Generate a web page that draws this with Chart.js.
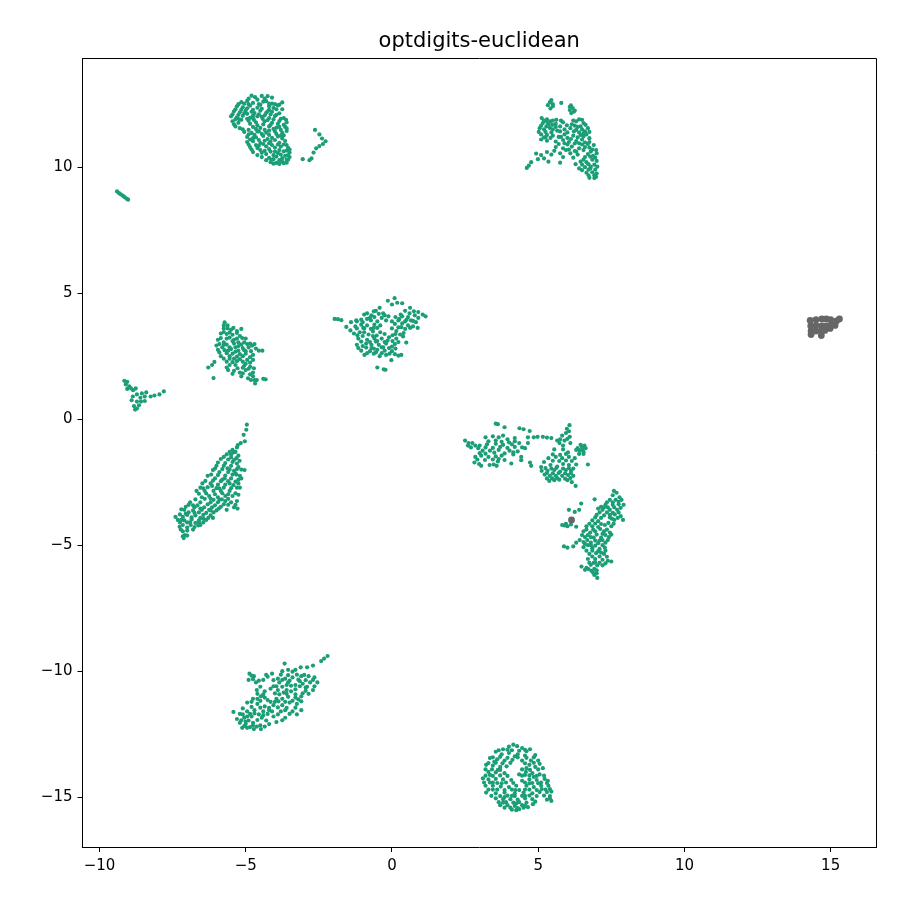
<!DOCTYPE html>
<html lang="en">
<head>
<meta charset="UTF-8">
<title>optdigits-euclidean</title>
<script src="https://cdn.jsdelivr.net/npm/chart.js"></script>
<style>
  html, body { margin: 0; padding: 0; background: #fff; }
  #wrap { width: 907px; height: 909px; }
</style>
</head>
<body>
<div id="wrap"><canvas id="chart" width="907" height="909"></canvas></div>
<script>
const chartTitle = 'optdigits-euclidean';
const xTicks = [-10, -5, 0, 5, 10, 15];
const yTicks = [-15, -10, -5, 0, 5, 10];
const xRange = [-10.58, 16.55];
const yRange = [-16.98, 14.33];

// values, one list per blob
const topLeft = [[-4.8,12.84],[-4.68,12.78],[-4.45,12.83],[-4.25,12.82],[-4.1,12.76],[-5.15,12.58],[-4.95,12.63],[-4.75,12.55],[-4.4,12.6],[-4.2,12.52],[-3.75,12.57],[-5.3,12.42],[-5.1,12.38],[-4.85,12.44],[-4.6,12.36],[-4.2,12.42],[-4.05,12.35],[-3.9,12.45],[-5.4,12.22],[-5.2,12.18],[-5.0,12.25],[-4.7,12.15],[-4.5,12.24],[-4.3,12.16],[-4.1,12.2],[-3.85,12.14],[-5.5,12.02],[-5.3,11.98],[-5.1,12.04],[-4.85,11.96],[-4.6,12.02],[-4.2,11.95],[-4.0,12.03],[-5.45,11.82],[-5.25,11.76],[-4.9,11.84],[-4.65,11.78],[-4.35,11.82],[-4.1,11.76],[-3.85,11.83],[-3.6,11.78],[-5.35,11.62],[-5.2,11.55],[-4.75,11.6],[-4.5,11.56],[-4.2,11.62],[-3.95,11.57],[-3.65,11.6],[-5.05,11.4],[-4.8,11.36],[-4.55,11.42],[-4.3,11.37],[-4.0,11.42],[-3.75,11.36],[-3.6,11.44],[-4.95,11.2],[-4.65,11.18],[-4.4,11.24],[-4.1,11.16],[-3.9,11.22],[-4.95,11.0],[-4.75,11.03],[-4.5,10.96],[-4.15,11.02],[-3.85,10.97],[-3.65,11.04],[-4.85,10.8],[-4.6,10.76],[-4.3,10.83],[-4.0,10.78],[-3.8,10.82],[-3.55,10.77],[-4.75,10.6],[-4.45,10.57],[-4.15,10.62],[-3.9,10.56],[-3.7,10.63],[-3.5,10.58],[-4.45,10.4],[-4.2,10.37],[-3.95,10.42],[-3.75,10.36],[-3.5,10.4],[-4.15,10.2],[-3.95,10.17],[-3.75,10.22],[-3.6,10.18]];
const topLeftMore = [[-4.9,12.72],[-4.6,12.68],[-4.35,12.72],[-5.25,12.5],[-5.05,12.52],[-4.9,12.5],[-4.5,12.47],[-4.1,12.52],[-3.85,12.48],[-5.35,12.3],[-5.15,12.28],[-4.95,12.34],[-4.75,12.28],[-4.45,12.32],[-4.2,12.28],[-3.95,12.3],[-5.45,12.1],[-5.25,12.08],[-4.95,12.12],[-4.75,12.05],[-4.55,12.1],[-4.35,12.06],[-4.15,12.1],[-3.95,12.08],[-5.35,11.9],[-5.15,11.88],[-4.95,11.92],[-4.72,11.88],[-4.42,11.92],[-4.25,11.87],[-4.05,11.9],[-3.8,11.92],[-3.62,11.88],[-5.4,11.7],[-4.85,11.72],[-4.6,11.66],[-4.4,11.7],[-4.15,11.68],[-3.9,11.72],[-3.7,11.68],[-5.1,11.5],[-4.9,11.48],[-4.65,11.52],[-4.35,11.48],[-4.05,11.52],[-3.8,11.48],[-3.6,11.54],[-4.9,11.3],[-4.7,11.28],[-4.45,11.32],[-4.2,11.28],[-3.95,11.32],[-3.7,11.26],[-4.85,11.1],[-4.55,11.08],[-4.25,11.12],[-4.0,11.08],[-3.75,11.14],[-4.9,10.9],[-4.65,10.88],[-4.4,10.92],[-4.1,10.88],[-3.9,10.9],[-3.6,10.88],[-4.8,10.7],[-4.5,10.68],[-4.2,10.72],[-3.85,10.68],[-3.6,10.66],[-4.6,10.48],[-4.3,10.52],[-4.05,10.48],[-3.8,10.5],[-3.55,10.48],[-4.3,10.28],[-4.05,10.32],[-3.85,10.28],[-3.6,10.3],[-4.05,10.14],[-3.85,10.13],[-3.7,10.16]];
const topLeftFill = [[-5.05,12.15],[-4.8,12.2],[-4.55,12.5],[-4.3,12.62],[-4.0,12.5],[-5.22,11.9],[-4.75,11.95],[-4.45,12.0],[-4.25,12.22],[-3.75,12.3],[-3.7,11.95],[-4.6,11.42],[-4.2,11.45],[-3.85,11.6],[-4.75,11.15],[-4.35,11.05],[-3.8,11.25],[-4.55,10.85],[-4.2,10.95],[-3.7,10.9],[-4.35,10.65],[-4.0,10.62],[-3.65,10.45],[-4.1,10.3],[-3.5,10.7],[-3.55,10.3]];
const topLeftTail = [[-3.05,10.32],[-2.82,10.28],[-2.75,10.35],[-2.68,10.58],[-2.59,10.75],[-2.48,10.84],[-2.36,10.92],[-2.27,11.03],[-2.39,11.14],[-2.48,11.3],[-2.63,11.48]];
const topMid = [[5.45,12.66],[5.33,12.46],[5.5,12.5],[5.42,12.33],[5.79,12.55],[6.08,12.4],[6.18,12.35],[6.13,12.15],[6.22,12.2],[5.12,11.95],[5.3,11.9],[5.5,11.85],[5.16,11.75],[5.35,11.7],[5.6,11.72],[5.85,11.78],[6.2,11.85],[6.4,11.9],[6.55,11.75],[5.05,11.55],[5.2,11.5],[5.4,11.56],[5.65,11.45],[5.9,11.5],[6.1,11.55],[6.3,11.48],[6.5,11.5],[6.7,11.55],[5.1,11.3],[5.3,11.28],[5.5,11.25],[5.9,11.3],[6.2,11.25],[6.45,11.28],[6.65,11.3],[5.1,11.1],[5.3,11.05],[5.6,11.02],[5.85,11.08],[6.05,11.0],[6.3,11.04],[6.5,11.1],[6.75,11.0],[5.6,10.8],[5.85,10.75],[6.15,10.82],[6.4,10.75],[6.6,10.8],[6.85,10.7],[4.93,10.54],[5.1,10.48],[5.3,10.6],[5.45,10.5],[5.75,10.55],[6.1,10.55],[6.35,10.5],[6.7,10.52],[7.0,10.55],[4.76,10.2],[4.99,10.32],[5.2,10.35],[5.35,10.22],[4.61,9.97],[4.68,10.06],[5.75,10.18],[6.28,10.12],[6.45,10.22],[6.65,10.2],[6.85,10.3],[7.0,10.25],[6.4,9.95],[6.6,10.0],[6.8,10.02],[7.02,10.02],[6.65,9.78],[6.85,9.8],[7.0,9.75],[6.75,9.58],[6.92,9.57]];
const topMidMore = [[5.4,12.58],[5.5,12.42],[6.12,12.45],[6.25,12.25],[6.08,12.27],[5.2,11.85],[5.42,11.82],[5.62,11.88],[5.78,11.85],[6.3,11.82],[6.5,11.88],[5.1,11.65],[5.28,11.62],[5.48,11.68],[5.75,11.62],[5.98,11.66],[6.25,11.65],[6.45,11.62],[6.62,11.68],[5.02,11.4],[5.25,11.4],[5.45,11.38],[5.75,11.42],[6.0,11.38],[6.22,11.42],[6.4,11.38],[6.6,11.42],[6.75,11.4],[5.2,11.18],[5.42,11.16],[5.7,11.2],[6.0,11.16],[6.35,11.18],[6.55,11.22],[6.75,11.15],[5.7,10.92],[6.0,10.9],[6.25,10.94],[6.5,10.9],[6.7,10.92],[6.9,10.88],[5.55,10.65],[5.95,10.68],[6.25,10.64],[6.55,10.68],[6.8,10.62],[6.98,10.68],[5.85,10.4],[6.2,10.38],[6.6,10.4],[6.78,10.42],[6.95,10.38],[6.5,10.1],[6.72,10.12],[6.92,10.1],[6.5,9.88],[6.72,9.9],[6.95,9.9],[6.72,9.68],[6.92,9.68],[6.98,9.62]];
const topMidFill = [[5.3,11.8],[5.6,11.6],[5.5,11.5],[5.25,11.18],[6.15,11.7],[6.35,11.6],[6.55,11.35],[5.78,11.2],[6.12,11.12],[6.4,10.95],[6.6,10.98],[5.9,10.95],[6.3,10.62],[6.05,10.7],[6.75,10.78],[6.88,10.45],[6.55,10.3],[6.78,9.95]];
const centre = [[-1.96,3.98],[-1.85,3.97],[-1.73,3.93],[-1.56,3.66],[-1.4,3.85],[-1.22,3.92],[-1.05,3.95],[-0.85,4.2],[-0.7,4.12],[-0.55,4.3],[-0.42,4.42],[-0.3,4.2],[-0.14,4.7],[0.0,4.55],[0.09,4.8],[0.18,4.62],[0.35,4.6],[0.45,4.3],[0.62,4.42],[0.75,4.28],[0.9,4.25],[1.05,4.15],[1.15,4.08],[0.9,4.02],[0.88,3.62],[0.72,3.9],[0.55,4.05],[0.35,4.08],[0.12,4.05],[-0.12,4.08],[-0.35,4.02],[-0.6,4.05],[-0.85,3.98],[-1.05,3.75],[-1.25,3.68],[-1.42,3.52],[-1.3,3.4],[-1.1,3.45],[-0.85,3.72],[-0.6,3.75],[-0.4,3.72],[0.1,3.78],[0.35,3.8],[0.55,3.72],[0.72,3.68],[-0.95,3.45],[-0.65,3.48],[-0.4,3.45],[0.15,3.5],[0.4,3.42],[-1.15,3.2],[-0.85,3.15],[-0.6,3.2],[-0.35,3.2],[-0.1,3.25],[0.15,3.2],[0.38,3.28],[-1.2,2.95],[-1.0,2.9],[-0.7,2.95],[-0.45,2.95],[-0.2,3.0],[0.1,2.98],[0.49,3.04],[-1.05,2.72],[-0.75,2.7],[-0.5,2.75],[-0.25,2.72],[0.0,2.7],[-0.94,2.55],[-0.62,2.6],[-0.42,2.5],[-0.2,2.55],[0.1,2.58],[0.22,2.52],[0.32,2.55],[-0.02,2.34],[-0.5,2.05],[-0.28,1.98],[-0.22,1.96]];
const centreMore = [[-0.62,4.28],[-0.95,4.15],[-0.45,4.18],[0.3,4.15],[0.6,4.2],[0.78,4.12],[-1.2,3.88],[-1.0,3.85],[-0.72,3.92],[-0.5,3.88],[-0.2,3.92],[0.0,3.88],[0.22,3.92],[0.45,3.88],[0.65,3.92],[0.82,3.85],[-1.2,3.6],[-0.98,3.62],[-0.72,3.58],[-0.5,3.62],[0.0,3.6],[0.22,3.64],[0.45,3.58],[0.62,3.62],[-1.18,3.33],[-0.8,3.36],[-0.52,3.32],[-0.25,3.38],[0.02,3.33],[0.28,3.36],[-1.05,3.08],[-0.75,3.06],[-0.5,3.1],[-0.25,3.06],[0.02,3.1],[0.22,3.06],[-1.15,2.82],[-0.88,2.84],[-0.62,2.8],[-0.35,2.85],[-0.1,2.82],[0.12,2.8],[-0.85,2.62],[-0.35,2.62],[-0.08,2.6]];
const centreFill = [[-0.75,4.02],[-0.25,4.12],[0.25,3.98],[0.5,3.95],[-0.95,3.6],[-0.62,3.62],[0.32,3.65],[-1.0,3.3],[-0.65,3.3],[-0.15,3.12],[0.12,3.38],[-0.88,3.0],[-0.55,3.08],[-0.3,2.85],[-0.7,2.82],[0.0,2.88],[-0.55,2.65]];
const leftMid = [[-5.72,3.84],[-5.62,3.72],[-5.75,3.6],[-5.5,3.55],[-5.3,3.5],[-5.15,3.58],[-5.85,3.4],[-5.65,3.38],[-5.45,3.35],[-5.2,3.3],[-5.0,3.2],[-5.95,3.15],[-5.75,3.05],[-5.45,3.1],[-5.25,3.05],[-5.05,3.05],[-4.85,3.0],[-4.7,2.98],[-6.0,2.92],[-5.8,2.85],[-5.55,2.85],[-5.35,2.85],[-5.1,2.82],[-4.9,2.85],[-4.65,2.8],[-4.43,2.72],[-5.9,2.65],[-5.65,2.62],[-5.45,2.6],[-5.2,2.58],[-5.0,2.6],[-4.75,2.55],[-5.75,2.4],[-5.4,2.4],[-5.2,2.38],[-4.95,2.35],[-4.75,2.35],[-6.07,2.27],[-6.15,2.15],[-6.28,2.05],[-5.55,2.15],[-5.35,2.15],[-5.05,2.12],[-4.85,2.08],[-5.6,1.95],[-5.4,1.92],[-5.2,1.85],[-5.0,1.95],[-4.75,1.85],[-6.1,1.63],[-5.15,1.7],[-4.92,1.62],[-4.75,1.7],[-4.68,1.42],[-4.62,1.55],[-4.4,1.6],[-4.32,1.58]];
const leftMidMore = [[-5.75,3.72],[-5.62,3.6],[-5.42,3.62],[-5.75,3.46],[-5.55,3.44],[-5.3,3.42],[-5.85,3.22],[-5.55,3.24],[-5.3,3.2],[-5.12,3.22],[-5.9,2.98],[-5.65,2.96],[-5.4,3.0],[-5.15,2.96],[-4.95,2.98],[-4.78,2.92],[-5.95,2.75],[-5.72,2.74],[-5.5,2.78],[-5.25,2.72],[-5.05,2.74],[-4.82,2.7],[-4.55,2.72],[-5.85,2.5],[-5.55,2.5],[-5.3,2.48],[-5.1,2.5],[-4.85,2.46],[-5.65,2.28],[-5.45,2.26],[-5.1,2.28],[-4.85,2.24],[-5.65,2.05],[-5.28,2.02],[-5.1,2.04],[-4.9,2.0],[-4.72,2.02],[-5.45,1.8],[-5.1,1.82],[-4.85,1.78],[-4.82,1.55],[-4.7,1.55]];
const leftMidFill = [[-5.65,3.2],[-5.4,3.15],[-5.75,2.95],[-5.25,2.9],[-5.6,2.72],[-5.35,2.68],[-5.0,2.7],[-5.55,2.4],[-5.3,2.3],[-5.0,2.2]];
const farLeftLine = [[-9.4,9.04],[-9.33,8.97],[-9.27,8.92],[-9.2,8.87],[-9.14,8.81],[-9.07,8.75],[-9.02,8.71]];
const farLeftBlob = [[-9.15,1.52],[-9.05,1.48],[-9.1,1.38],[-8.98,1.3],[-9.05,1.2],[-8.92,1.22],[-8.76,1.22],[-8.85,1.15],[-8.86,0.9],[-8.9,0.75],[-8.72,0.98],[-8.55,1.02],[-8.4,1.06],[-8.6,0.85],[-8.45,0.9],[-8.25,0.9],[-8.12,0.94],[-7.95,0.98],[-7.8,1.1],[-8.72,0.7],[-8.58,0.7],[-8.45,0.72],[-8.82,0.52],[-8.72,0.42],[-8.65,0.55],[-8.78,0.38]];
const lowerLeft = [[-4.96,-0.22],[-4.98,-0.42],[-5.07,-0.62],[-5.03,-0.88],[-5.17,-0.95],[-5.27,-1.03],[-5.45,-1.22],[-5.35,-1.3],[-5.5,-1.4],[-5.25,-1.45],[-5.65,-1.4],[-5.85,-1.58],[-5.6,-1.6],[-5.4,-1.62],[-5.21,-1.65],[-6.0,-1.85],[-5.75,-1.85],[-5.5,-1.85],[-5.25,-1.9],[-5.04,-2.02],[-6.12,-2.02],[-5.9,-2.1],[-5.6,-2.1],[-5.35,-2.15],[-6.3,-2.25],[-6.05,-2.35],[-5.72,-2.35],[-5.5,-2.35],[-5.25,-2.4],[-6.48,-2.55],[-6.2,-2.55],[-5.95,-2.6],[-5.7,-2.6],[-5.42,-2.62],[-5.2,-2.72],[-6.68,-2.85],[-6.4,-2.85],[-6.1,-2.85],[-5.85,-2.85],[-5.55,-2.85],[-6.25,-3.05],[-5.95,-3.1],[-5.7,-3.05],[-5.45,-3.05],[-5.25,-3.0],[-6.9,-3.3],[-6.55,-3.3],[-6.2,-3.3],[-5.95,-3.3],[-5.7,-3.25],[-5.5,-3.3],[-5.3,-3.25],[-7.05,-3.48],[-6.75,-3.5],[-6.42,-3.5],[-6.15,-3.5],[-5.85,-3.48],[-5.65,-3.6],[-5.28,-3.55],[-5.4,-3.5],[-7.2,-3.58],[-6.95,-3.7],[-6.6,-3.7],[-6.35,-3.72],[-6.1,-3.7],[-7.4,-3.88],[-7.15,-3.88],[-6.85,-3.9],[-6.55,-3.92],[-6.28,-3.92],[-6.12,-3.92],[-7.25,-4.1],[-7.0,-4.1],[-6.72,-4.12],[-6.45,-4.1],[-7.26,-4.27],[-7.0,-4.3],[-6.75,-4.28],[-6.55,-4.2],[-7.15,-4.45],[-7.08,-4.6],[-7.0,-4.62],[-7.12,-4.72]];
const lowerLeftMore = [[-5.3,-1.12],[-5.55,-1.3],[-5.42,-1.32],[-5.75,-1.5],[-5.5,-1.52],[-5.32,-1.55],[-5.95,-1.72],[-5.7,-1.74],[-5.45,-1.7],[-5.3,-1.76],[-6.05,-1.96],[-5.8,-1.98],[-5.55,-2.0],[-5.3,-1.98],[-5.15,-2.0],[-6.18,-2.2],[-5.95,-2.22],[-5.7,-2.24],[-5.45,-2.2],[-5.2,-2.25],[-6.38,-2.45],[-6.12,-2.44],[-5.85,-2.46],[-5.6,-2.46],[-5.35,-2.48],[-6.55,-2.72],[-6.3,-2.7],[-6.0,-2.74],[-5.75,-2.72],[-5.5,-2.74],[-5.3,-2.72],[-6.6,-2.96],[-6.35,-2.95],[-6.05,-2.98],[-5.8,-2.94],[-5.6,-2.98],[-5.35,-2.94],[-6.72,-3.18],[-6.4,-3.16],[-6.1,-3.2],[-5.82,-3.18],[-5.6,-3.16],[-6.95,-3.4],[-6.65,-3.42],[-6.3,-3.38],[-6.05,-3.42],[-5.75,-3.38],[-7.1,-3.6],[-6.8,-3.62],[-6.5,-3.6],[-6.25,-3.6],[-6.0,-3.62],[-7.25,-3.78],[-7.0,-3.8],[-6.72,-3.82],[-6.45,-3.8],[-6.2,-3.82],[-7.32,-4.0],[-7.1,-4.02],[-6.85,-3.98],[-6.6,-4.02],[-6.35,-4.0],[-7.15,-4.2],[-6.88,-4.2],[-6.62,-4.22],[-7.22,-4.38],[-7.0,-4.42],[-6.8,-4.38],[-7.15,-4.65]];
const lowerLeftFill = [[-5.62,-1.95],[-5.4,-2.05],[-5.8,-2.4],[-5.55,-2.55],[-6.15,-2.65],[-5.9,-2.75],[-6.45,-2.75],[-6.2,-3.15],[-5.9,-3.2],[-6.5,-3.1],[-6.8,-3.42],[-6.55,-3.55],[-6.2,-3.62],[-5.92,-3.55],[-7.05,-3.75],[-6.75,-3.72],[-6.45,-3.95],[-7.2,-4.0],[-6.9,-4.1],[-6.6,-4.1],[-5.32,-2.2],[-5.25,-2.55],[-5.6,-3.4],[-5.35,-3.4],[-5.15,-2.35]];
const midRightA = [[2.5,-0.85],[2.62,-0.95],[2.75,-0.95],[2.6,-1.05],[2.85,-1.05],[3.55,-0.18],[3.62,-0.2],[3.85,-0.32],[3.2,-0.72],[3.45,-0.68],[3.65,-0.72],[3.8,-0.65],[3.95,-0.8],[4.2,-0.75],[4.36,-0.36],[4.5,-0.4],[4.71,-0.47],[4.65,-0.72],[4.85,-0.72],[4.98,-0.7],[3.0,-1.05],[3.25,-1.0],[3.55,-0.98],[3.8,-1.02],[4.1,-1.0],[4.35,-0.95],[4.65,-0.95],[3.1,-1.25],[3.35,-1.25],[3.65,-1.22],[4.02,-1.25],[4.3,-1.28],[4.55,-1.15],[2.85,-1.5],[3.05,-1.45],[3.3,-1.5],[3.55,-1.48],[3.75,-1.45],[4.15,-1.4],[4.42,-1.5],[2.82,-1.72],[2.98,-1.78],[3.34,-1.82],[3.48,-1.8],[3.62,-1.68],[3.85,-1.62],[4.08,-1.76],[4.42,-1.63],[4.72,-1.72],[4.76,-1.85]];
const midRightAMore = [[3.3,-0.88],[3.55,-0.85],[3.75,-0.9],[4.0,-0.92],[4.2,-0.88],[2.7,-1.12],[2.95,-1.15],[3.2,-1.12],[3.45,-1.14],[3.7,-1.1],[3.95,-1.14],[4.2,-1.1],[4.45,-1.12],[3.0,-1.35],[3.2,-1.37],[3.5,-1.33],[3.85,-1.36],[4.15,-1.32],[2.92,-1.6],[3.18,-1.62],[3.45,-1.6],[3.65,-1.58],[3.05,-1.85],[3.58,-1.85]];
const midRightB = [[6.07,-0.24],[5.98,-0.38],[5.95,-0.55],[5.82,-0.65],[5.16,-0.7],[5.3,-0.73],[5.45,-0.75],[5.65,-0.85],[6.08,-0.7],[5.9,-0.85],[5.73,-0.95],[6.1,-0.95],[6.35,-1.15],[6.5,-1.1],[6.62,-1.15],[6.55,-1.3],[6.42,-1.25],[5.55,-1.2],[5.85,-1.2],[6.02,-1.32],[6.4,-1.38],[5.35,-1.55],[5.6,-1.5],[5.82,-1.55],[6.05,-1.5],[6.25,-1.55],[6.7,-1.8],[5.2,-1.7],[5.42,-1.82],[5.65,-1.88],[5.85,-1.78],[6.05,-1.82],[6.3,-1.8],[5.1,-1.9],[5.12,-2.05],[5.32,-2.05],[5.55,-2.02],[5.75,-2.08],[5.95,-2.02],[6.12,-2.05],[5.22,-2.2],[5.4,-2.25],[5.6,-2.25],[5.82,-2.25],[6.02,-2.22],[6.2,-2.25],[5.38,-2.45],[5.55,-2.42],[5.72,-2.4],[6.0,-2.42],[6.15,-2.5],[6.28,-2.65]];
const midRightBMore = [[6.05,-0.48],[5.75,-0.8],[6.0,-0.78],[5.85,-1.05],[6.45,-1.02],[6.58,-1.05],[6.5,-1.2],[6.3,-1.22],[5.5,-1.4],[5.75,-1.42],[5.95,-1.38],[6.55,-1.38],[5.5,-1.65],[5.72,-1.66],[5.95,-1.64],[6.15,-1.66],[5.25,-1.94],[5.45,-1.96],[5.62,-1.94],[5.85,-1.96],[6.05,-1.94],[6.2,-1.96],[5.3,-2.14],[5.5,-2.15],[5.7,-2.14],[5.92,-2.15],[6.12,-2.14],[5.3,-2.35],[5.48,-2.35],[5.65,-2.34],[5.92,-2.36],[6.1,-2.34]];
const lowerRight = [[7.59,-2.85],[7.68,-2.92],[7.55,-3.02],[7.78,-3.1],[7.65,-3.2],[7.45,-3.2],[7.85,-3.2],[7.92,-3.4],[7.75,-3.38],[7.55,-3.4],[7.3,-3.4],[7.05,-3.55],[6.93,-3.18],[6.47,-3.35],[6.4,-3.6],[6.05,-3.6],[6.25,-3.68],[7.2,-3.6],[7.45,-3.6],[7.7,-3.6],[7.0,-3.8],[7.25,-3.82],[7.62,-3.78],[7.82,-3.85],[7.9,-4.0],[6.85,-4.02],[7.05,-4.05],[7.6,-4.0],[5.82,-4.2],[5.95,-4.15],[6.3,-4.27],[6.65,-4.25],[6.85,-4.25],[7.05,-4.28],[7.28,-4.2],[7.5,-4.25],[6.55,-4.45],[6.78,-4.5],[7.25,-4.45],[7.45,-4.5],[6.6,-4.68],[6.9,-4.7],[7.15,-4.7],[7.42,-4.68],[6.3,-4.9],[6.55,-4.88],[6.8,-4.9],[7.05,-4.92],[7.3,-4.9],[5.88,-5.05],[6.0,-5.1],[6.2,-5.05],[6.55,-5.08],[6.85,-5.12],[7.1,-5.15],[7.28,-5.1],[6.75,-5.35],[6.98,-5.32],[7.25,-5.35],[6.7,-5.55],[6.95,-5.55],[7.2,-5.58],[7.38,-5.62],[7.5,-5.65],[6.48,-5.85],[6.65,-5.9],[6.8,-5.78],[7.02,-5.8],[6.6,-5.98],[6.82,-6.02],[7.0,-6.0],[6.92,-6.18],[7.02,-6.3]];
const lowerRightMore = [[7.55,-3.3],[7.75,-3.28],[7.35,-3.3],[7.6,-3.5],[7.82,-3.52],[7.38,-3.5],[7.15,-3.48],[7.1,-3.7],[7.35,-3.7],[7.55,-3.72],[7.75,-3.7],[6.95,-3.9],[7.15,-3.92],[7.45,-3.9],[7.72,-3.92],[6.75,-4.15],[6.95,-4.14],[7.15,-4.16],[7.4,-4.12],[7.58,-4.15],[6.65,-4.38],[6.88,-4.38],[7.12,-4.36],[7.35,-4.38],[6.5,-4.6],[6.7,-4.6],[7.0,-4.58],[7.3,-4.6],[7.5,-4.58],[6.42,-4.8],[6.68,-4.8],[6.95,-4.82],[7.2,-4.8],[7.38,-4.8],[6.7,-5.0],[6.95,-5.02],[7.2,-5.0],[6.65,-5.22],[6.85,-5.22],[7.05,-5.24],[7.3,-5.22],[6.85,-5.45],[7.1,-5.45],[7.35,-5.46],[6.75,-5.7],[6.9,-5.7],[7.1,-5.7],[7.3,-5.72],[6.72,-5.95],[6.92,-5.94],[6.88,-6.1],[7.0,-6.12],[5.9,-4.22],[6.0,-4.25],[6.12,-4.18]];
const lowerRightFill = [[7.25,-3.5],[7.45,-3.8],[6.95,-4.45],[7.2,-4.55],[6.8,-4.68],[7.1,-4.82],[6.6,-4.95],[6.8,-5.0],[7.15,-5.3],[6.95,-5.68],[7.2,-5.8],[7.52,-3.95]];
const bottomLeft = [[-2.2,-9.4],[-2.32,-9.5],[-2.42,-9.6],[-2.7,-9.78],[-2.9,-9.85],[-3.12,-9.85],[-3.3,-9.95],[-3.67,-9.7],[-3.55,-9.95],[-3.75,-10.0],[-4.1,-10.1],[-4.3,-10.15],[-4.87,-10.1],[-4.72,-10.2],[-4.9,-10.35],[-4.65,-10.45],[-4.4,-10.35],[-3.9,-10.3],[-3.65,-10.3],[-3.4,-10.25],[-3.1,-10.2],[-2.85,-10.2],[-2.65,-10.25],[-2.55,-10.45],[-2.8,-10.45],[-3.05,-10.5],[-3.3,-10.55],[-3.6,-10.55],[-3.95,-10.6],[-4.15,-10.7],[-4.62,-10.75],[-4.35,-10.8],[-2.7,-10.75],[-2.95,-10.78],[-3.45,-10.8],[-3.7,-10.85],[-4.0,-10.88],[-4.48,-11.0],[-4.75,-11.1],[-3.1,-11.0],[-3.3,-11.05],[-3.75,-11.1],[-3.95,-11.1],[-4.25,-11.15],[-4.95,-11.25],[-4.6,-11.3],[-4.35,-11.4],[-4.05,-11.35],[-3.75,-11.35],[-3.5,-11.25],[-3.25,-11.3],[-5.42,-11.62],[-5.2,-11.7],[-4.95,-11.6],[-4.7,-11.55],[-4.4,-11.6],[-4.1,-11.6],[-3.8,-11.6],[-3.4,-11.6],[-3.1,-11.55],[-3.25,-11.72],[-5.3,-11.9],[-5.05,-11.85],[-4.8,-11.8],[-4.45,-11.85],[-4.05,-11.8],[-3.65,-11.85],[-5.2,-12.05],[-5.0,-12.1],[-4.75,-12.05],[-4.5,-12.15],[-3.95,-12.02],[-4.2,-12.1],[-5.12,-12.25],[-4.95,-12.25],[-4.72,-12.3],[-4.48,-12.3]];
const bottomLeftMore = [[-3.4,-10.02],[-3.0,-10.15],[-3.25,-10.14],[-3.55,-10.16],[-3.8,-10.14],[-4.25,-10.22],[-4.8,-10.18],[-2.7,-10.35],[-2.95,-10.36],[-3.2,-10.34],[-3.5,-10.38],[-3.75,-10.35],[-4.05,-10.36],[-4.55,-10.38],[-4.75,-10.32],[-2.65,-10.6],[-2.9,-10.62],[-3.15,-10.6],[-3.45,-10.58],[-3.75,-10.62],[-4.05,-10.6],[-4.5,-10.62],[-2.85,-10.9],[-3.05,-10.88],[-3.3,-10.92],[-3.6,-10.9],[-3.85,-10.92],[-4.6,-10.9],[-4.4,-10.92],[-3.1,-11.2],[-3.4,-11.18],[-3.65,-11.22],[-3.88,-11.2],[-4.15,-11.22],[-4.5,-11.18],[-4.8,-11.22],[-3.3,-11.45],[-3.6,-11.46],[-3.9,-11.44],[-4.2,-11.46],[-4.5,-11.45],[-4.8,-11.42],[-5.1,-11.48],[-3.5,-11.7],[-3.9,-11.72],[-4.25,-11.7],[-4.55,-11.72],[-4.85,-11.7],[-5.1,-11.72],[-3.75,-11.95],[-4.3,-11.96],[-4.6,-11.94],[-4.9,-11.96],[-5.15,-11.95],[-4.35,-12.2],[-4.62,-12.2],[-4.85,-12.22],[-5.05,-12.18]];
const bottomLeftFill = [[-3.15,-10.4],[-3.55,-10.45],[-3.85,-10.45],[-2.95,-10.65],[-3.3,-10.72],[-3.6,-10.75],[-3.9,-10.75],[-3.2,-11.12],[-3.55,-11.02],[-4.0,-11.22],[-4.35,-11.05],[-4.6,-11.1],[-4.2,-11.55],[-3.65,-11.55],[-4.7,-11.68],[-4.4,-11.75],[-4.95,-11.8],[-5.0,-12.0],[-4.75,-12.15]];
const bottomCircle = [[4.15,-12.92],[4.28,-12.98],[4.0,-13.0],[4.45,-13.05],[4.72,-13.1],[3.8,-13.1],[3.55,-13.2],[3.75,-13.3],[4.0,-13.25],[4.3,-13.3],[4.55,-13.35],[4.9,-13.33],[5.0,-13.55],[3.35,-13.45],[3.6,-13.5],[3.85,-13.55],[4.12,-13.52],[4.45,-13.55],[4.75,-13.55],[3.22,-13.72],[3.45,-13.75],[3.7,-13.8],[3.92,-13.78],[4.6,-13.85],[4.9,-13.8],[5.16,-13.85],[3.3,-14.0],[3.55,-14.02],[3.85,-14.05],[4.35,-14.1],[4.55,-14.12],[4.8,-14.05],[5.05,-14.1],[3.11,-14.26],[3.3,-14.3],[3.55,-14.28],[3.8,-14.3],[4.08,-14.32],[4.45,-14.35],[4.7,-14.3],[4.95,-14.32],[5.22,-14.28],[5.33,-14.35],[3.2,-14.55],[3.45,-14.55],[3.72,-14.58],[4.0,-14.6],[4.25,-14.55],[4.6,-14.55],[4.85,-14.6],[5.1,-14.55],[5.35,-14.55],[3.22,-14.82],[3.55,-14.85],[3.85,-14.82],[4.2,-14.85],[4.5,-14.82],[4.8,-14.85],[5.05,-14.8],[5.3,-14.8],[5.45,-14.78],[3.55,-15.05],[3.8,-15.08],[4.05,-15.08],[4.3,-15.1],[4.55,-15.05],[4.8,-15.08],[5.3,-15.1],[5.45,-15.15],[3.7,-15.32],[3.95,-15.32],[4.2,-15.35],[4.45,-15.32],[4.82,-15.28],[4.1,-15.5],[4.25,-15.52],[4.35,-15.48]];
const bottomCircleMore = [[4.1,-13.14],[4.35,-13.16],[4.6,-13.18],[3.65,-13.14],[3.45,-13.42],[3.7,-13.4],[3.95,-13.44],[4.3,-13.42],[4.6,-13.44],[4.85,-13.42],[3.3,-13.65],[3.55,-13.64],[3.78,-13.66],[4.05,-13.64],[4.55,-13.66],[4.85,-13.64],[5.05,-13.68],[3.2,-13.9],[3.42,-13.9],[3.7,-13.92],[4.45,-13.9],[4.72,-13.92],[5.0,-13.9],[3.2,-14.15],[3.45,-14.16],[3.7,-14.14],[3.95,-14.16],[4.45,-14.15],[4.7,-14.14],[4.95,-14.16],[5.2,-14.15],[3.15,-14.42],[3.35,-14.42],[3.6,-14.44],[3.9,-14.42],[4.15,-14.44],[4.55,-14.42],[4.8,-14.44],[5.1,-14.42],[5.3,-14.44],[3.3,-14.7],[3.6,-14.7],[3.85,-14.72],[4.1,-14.7],[4.35,-14.72],[4.7,-14.7],[4.95,-14.72],[5.25,-14.7],[5.4,-14.68],[3.4,-14.95],[3.7,-14.96],[3.95,-14.94],[4.2,-14.96],[4.45,-14.95],[4.7,-14.94],[4.95,-14.96],[5.2,-14.94],[5.4,-14.96],[3.65,-15.2],[3.9,-15.2],[4.15,-15.22],[4.35,-15.2],[4.6,-15.22],[4.9,-15.18],[3.85,-15.42],[4.05,-15.42],[4.3,-15.44],[4.5,-15.42],[4.65,-15.4]];
const bottomCircleFill = [[4.55,-13.12],[3.95,-13.12],[3.5,-13.6],[4.2,-13.38],[4.7,-13.72],[3.35,-14.12],[3.62,-13.92],[4.58,-14.0],[4.85,-14.2],[3.45,-14.42],[3.75,-14.45],[4.7,-14.45],[5.0,-14.45],[3.45,-14.7],[4.22,-14.72],[4.55,-14.7],[5.12,-14.68],[3.85,-15.0],[4.1,-14.95],[4.55,-14.95],[3.8,-15.22],[4.25,-15.25],[4.55,-15.35],[5.4,-15.05]];
const greyPoints = [[14.3,3.92],[14.32,3.7],[14.33,3.5],[14.33,3.36],[14.5,3.95],[14.5,3.72],[14.5,3.5],[14.68,3.32],[14.7,3.98],[14.7,3.7],[14.68,3.5],[14.85,3.98],[14.85,3.7],[14.8,3.52],[15.0,3.95],[15.02,3.75],[14.98,3.6],[15.2,3.9],[15.15,3.72],[15.3,3.98]];
const greySmall = [[6.14,-4.0]];

const greenPoints = [].concat(topLeft, topLeftMore, topLeftFill, topLeftTail, topMid, topMidMore, topMidFill, centre, centreMore, centreFill, leftMid, leftMidMore, leftMidFill, farLeftLine, farLeftBlob, lowerLeft, lowerLeftMore, lowerLeftFill, midRightA, midRightAMore, midRightB, midRightBMore, lowerRight, lowerRightMore, lowerRightFill, bottomLeft, bottomLeftMore, bottomLeftFill, bottomCircle, bottomCircleMore, bottomCircleFill);
const toXY = p => ({ x: p[0], y: p[1] });

// top and right spines
const frame = {
  id: 'frame',
  afterDraw(c) {
    const a = c.chartArea, g = c.ctx;
    const t = Math.round(a.top) + 0.5, r = Math.round(a.right) + 0.5;
    g.save();
    g.strokeStyle = '#000';
    g.lineWidth = 1;
    g.beginPath();
    g.moveTo(a.left, t);
    g.lineTo(r, t);
    g.lineTo(r, a.bottom);
    g.stroke();
    g.restore();
  }
};

function axis(range, ticks, size, isY) {
  return {
    type: 'linear',
    min: range[0],
    max: range[1],
    afterBuildTicks: s => { s.ticks = ticks.map(v => ({ value: v })); },
    afterFit: s => { if (isY) s.width = size; else s.height = size; },
    grid: { drawOnChartArea: false, drawTicks: true, tickLength: 5, color: '#000', lineWidth: 1 },
    border: { display: true, color: '#000', width: 1 },
    ticks: {
      color: '#000',
      font: { family: 'DejaVu Sans', size: 15 },
      padding: 5,
      maxRotation: 0,
      autoSkip: false,
      callback: v => String(v).replace('-', '\u2212')
    }
  };
}

new Chart(document.getElementById('chart'), {
  type: 'scatter',
  data: {
    datasets: [
      { label: 'grey', data: greyPoints.concat(greySmall).map(toXY), backgroundColor: '#666666', pointRadius: 3.4, order: 0 },
      { label: 'green', data: greenPoints.map(toXY), backgroundColor: '#1b9e77', pointRadius: 2.1, order: 1 }
    ]
  },
  options: {
    responsive: false,
    animation: false,
    layout: { padding: { left: 0, right: 31, top: 0, bottom: 0 } },
    elements: { point: { borderWidth: 0 } },
    plugins: {
      legend: { display: false },
      tooltip: { enabled: false },
      title: {
        display: true,
        text: chartTitle,
        color: '#000',
        fullSize: false,
        font: { family: 'DejaVu Sans', size: 21, weight: 'normal' },
        padding: { top: 28.5, bottom: 4.4 }
      }
    },
    scales: {
      x: axis(xRange, xTicks, 62, false),
      y: axis(yRange, yTicks, 82.5, true)
    }
  },
  plugins: [frame]
});
</script>
</body>
</html>
